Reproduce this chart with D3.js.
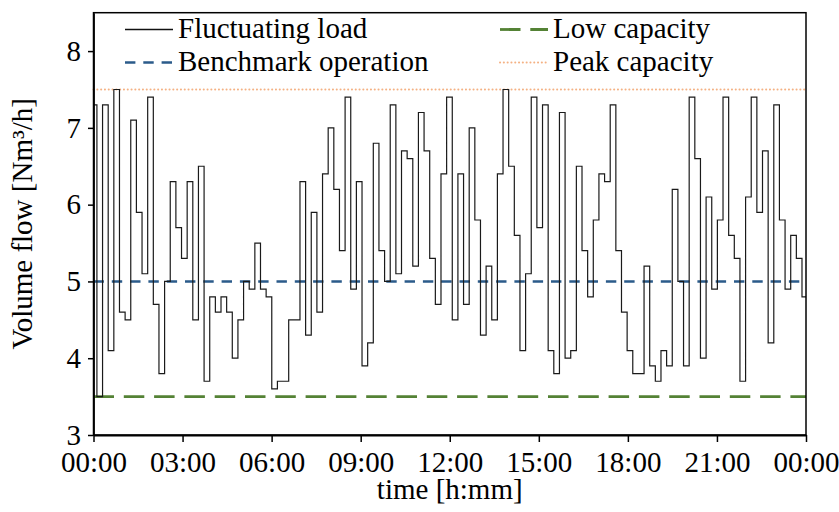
<!DOCTYPE html>
<html>
<head>
<meta charset="utf-8">
<script src="https://cdn.jsdelivr.net/npm/d3@7"></script>
<style>
  body { margin: 0; background: #ffffff; }
  svg text { font-family: "Liberation Serif", "Times New Roman", serif; fill: #000; }
</style>
</head>
<body>
<div id="chart"></div>
<script>
// ****************************************************
// data
var loadValues = [
  7.3, 3.5, 7.3, 4.1, 7.5, 4.6, 4.5, 7.1, 5.9, 5.1,
  7.4, 4.7, 3.8, 5.0, 6.3, 5.7, 5.3, 6.3, 4.5, 6.5,
  3.7, 4.8, 4.6, 4.8, 4.6, 4.0, 4.5, 5.0, 4.9, 5.5,
  4.9, 4.8, 3.6, 3.7, 3.7, 4.5, 4.5, 6.3, 4.3, 5.9,
  4.6, 6.4, 7.0, 6.2, 5.4, 7.4, 4.9, 6.3, 3.9, 4.2,
  6.8, 5.4, 5.0, 7.3, 5.1, 6.7, 6.6, 5.2, 7.2, 6.7,
  5.3, 4.7, 6.4, 7.4, 4.5, 6.4, 4.7, 7.0, 5.8, 4.3,
  5.2, 4.5, 6.4, 7.5, 6.5, 5.6, 4.1, 5.1, 7.4, 5.7,
  7.3, 4.1, 3.8, 7.2, 4.0, 4.1, 6.5, 5.4, 4.8, 5.8,
  6.4, 6.3, 7.3, 5.4, 4.6, 4.1, 3.8, 3.8, 5.2, 3.9,
  3.7, 4.1, 3.9, 6.2, 5.0, 3.9, 7.4, 6.6, 4.0, 6.1,
  4.9, 5.8, 7.4, 5.6, 5.3, 3.7, 6.1, 7.4, 5.9, 6.7,
  4.2, 7.3, 5.8, 4.9, 5.6, 5.3, 4.8
];
var firstStepMinute = -4.5;   // steps begin a little before 00:00
var stepMinutes = 11.4;

var benchmarkLevel = 5.0;
var lowCapacityLevel = 3.5;
var peakCapacityLevel = 7.5;

var xTickHours = [0, 3, 6, 9, 12, 15, 18, 21, 24];
var xTickLabels = ["00:00", "03:00", "06:00", "09:00", "12:00", "15:00", "18:00", "21:00", "00:00"];
var yTicks = [3, 4, 5, 6, 7, 8];
var legendLabels = ["Fluctuating load", "Benchmark operation", "Low capacity", "Peak capacity"];

// ****************************************************
// setup the svg area
var svgWidth = 839;
var svgHeight = 512;

var margin = {
  top: 12.7,
  right: 33,
  bottom: 77,
  left: 93.5
};

var width = svgWidth - margin.left - margin.right;
var height = svgHeight - margin.top - margin.bottom;

var fontSize = 29;
var blue = "#2b5b8a";
var green = "#548235";
var orange = "#f4b183";

var svg = d3.select("#chart")
  .append("svg")
  .attr("width", svgWidth)
  .attr("height", svgHeight);

var chart = svg.append("g")
  .attr("transform", `translate(${margin.left}, ${margin.top})`);

// ****************************************************
// scales
var xScale = d3.scaleLinear()
  .domain([0, 24])
  .range([0, width]);

var yScale = d3.scaleLinear()
  .domain([3, 8.5])
  .range([height, 0]);

// clip for the load trace
chart.append("clipPath")
  .attr("id", "plotClip")
  .append("rect")
  .attr("width", width)
  .attr("height", height);

// ****************************************************
// reference lines
function levelLine(level, color, dash, w, cap) {
  chart.append("line")
    .attr("x1", xScale(0))
    .attr("x2", xScale(24))
    .attr("y1", yScale(level))
    .attr("y2", yScale(level))
    .attr("stroke", color)
    .attr("stroke-width", w)
    .attr("stroke-dasharray", dash)
    .attr("stroke-linecap", cap);
}
levelLine(peakCapacityLevel, orange, "0.1 3.7", 2, "round");
levelLine(benchmarkLevel, blue, "10.4 7.9", 2.6, "butt");
levelLine(lowCapacityLevel, green, "20.5 9.8", 2.8, "butt");

// ****************************************************
// fluctuating load as a step line
var loadPoints = loadValues.map(function(v, i) {
  return { h: (firstStepMinute + i * stepMinutes) / 60, v: v };
});
loadPoints.push({ h: 24, v: loadValues[loadValues.length - 1] });

var stepLine = d3.line()
  .x(function(d) { return xScale(d.h); })
  .y(function(d) { return yScale(d.v); })
  .curve(d3.curveStepAfter);

chart.append("path")
  .datum(loadPoints)
  .attr("clip-path", "url(#plotClip)")
  .attr("fill", "none")
  .attr("stroke", "#1a1a1a")
  .attr("stroke-width", 1.2)
  .attr("d", stepLine);

// ****************************************************
// frame and axes
chart.append("rect")
  .attr("width", width)
  .attr("height", height)
  .attr("fill", "none")
  .attr("stroke", "#000")
  .attr("stroke-width", 1.5);

var xAxis = d3.axisBottom(xScale)
  .tickValues(xTickHours)
  .tickFormat(function(d, i) { return xTickLabels[i]; })
  .tickSizeInner(7)
  .tickSizeOuter(0)
  .tickPadding(9);

var yAxis = d3.axisLeft(yScale)
  .tickValues(yTicks)
  .tickFormat(d3.format("d"))
  .tickSizeInner(5.5)
  .tickSizeOuter(0)
  .tickPadding(7);

var gx = chart.append("g")
  .attr("transform", `translate(0, ${height})`)
  .call(xAxis);

var gy = chart.append("g")
  .call(yAxis);

[gx, gy].forEach(function(g) {
  g.selectAll(".domain").attr("stroke", "#000").attr("stroke-width", 1.8);
  g.selectAll(".tick line").attr("stroke", "#000").attr("stroke-width", 1.5);
  g.selectAll(".tick text")
    .attr("font-size", fontSize)
    .attr("fill", "#000");
});

// axis titles
svg.append("text")
  .attr("x", margin.left + width / 2)
  .attr("y", 499)
  .attr("text-anchor", "middle")
  .attr("font-size", fontSize)
  .text("time [h:mm]");

svg.append("text")
  .attr("transform", `translate(32, ${margin.top + height / 2}) rotate(-90)`)
  .attr("text-anchor", "middle")
  .attr("font-size", fontSize)
  .text("Volume flow [Nm³/h]");

// ****************************************************
// legend
var legendRows = [
  { x: 125, y: 29.5, label: legendLabels[0], color: "#111", dash: null, w: 1.5, cap: "butt" },
  { x: 125, y: 62.5, label: legendLabels[1], color: blue, dash: "10.4 7.9", w: 2.6, cap: "butt" },
  { x: 500, y: 29.5, label: legendLabels[2], color: green, dash: "20.5 9.8", w: 2.8, cap: "butt" },
  { x: 500, y: 62.5, label: legendLabels[3], color: orange, dash: "0.1 3.7", w: 2, cap: "round" }
];

var legend = svg.selectAll("g.legendItem")
  .data(legendRows)
  .enter()
  .append("g")
  .attr("class", "legendItem")
  .attr("transform", function(d) { return `translate(${d.x}, ${d.y})`; });

legend.append("line")
  .attr("x1", 0)
  .attr("x2", 48)
  .attr("stroke", function(d) { return d.color; })
  .attr("stroke-width", function(d) { return d.w; })
  .attr("stroke-dasharray", function(d) { return d.dash; })
  .attr("stroke-linecap", function(d) { return d.cap; });

legend.append("text")
  .attr("x", 53)
  .attr("y", 8.5)
  .attr("font-size", fontSize)
  .text(function(d) { return d.label; });
</script>
</body>
</html>
